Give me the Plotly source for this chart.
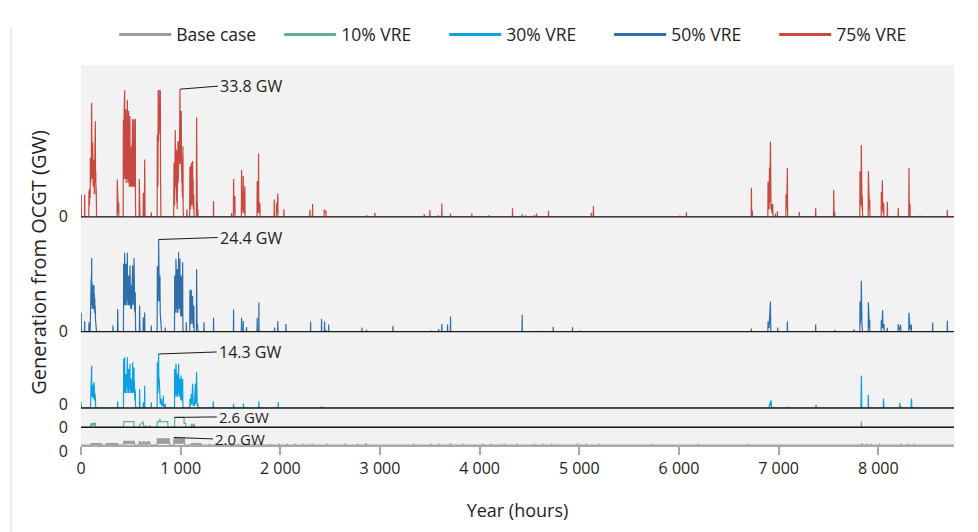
import plotly.graph_objects as go
from plotly.subplots import make_subplots

# ---------------- data (hour of year, GW from OCGT) ----------------
hour_ticks = [0, 1000, 2000, 3000, 4000, 5000, 6000, 7000, 8000]
hour_tick_labels = ["0", "1 000", "2 000", "3 000", "4 000", "5 000", "6 000", "7 000", "8 000"]

vre75_points = [
    (0, 0), (2, 5.9), (4, 0), (35, 0), (37, 5.9), (39, 0),
    (78, 0), (80, 7), (84, 3), (88, 7.5), (92, 5), (94, 15.6), (97, 9), (100, 14), (103, 12), (105, 22),
    (107, 30.2), (109, 18), (111, 20), (113, 10), (115, 17), (117, 19.6), (119, 10), (121, 12), (123, 8),
    (126, 15), (128, 9), (130, 9.9), (133, 6), (136, 12), (139, 8), (142, 14), (144, 25.3), (146, 9),
    (148, 12), (150, 6), (152, 8), (154, 4.6), (156, 0),
    (362, 0), (364, 9.9), (366, 2), (370, 5), (374, 1), (378, 3.7), (380, 0),
    (423, 0), (425, 25.8), (427, 12), (429, 20), (431, 10), (433, 28), (435, 14), (438, 33.5), (440, 12),
    (442, 22), (444, 10), (446, 26), (448, 14), (451, 28.5), (453, 9), (455, 20), (457, 11), (459, 24),
    (461, 10), (463, 27), (465, 31), (467, 12), (469, 22), (471, 9), (473, 18), (475, 12), (478, 28),
    (480, 10), (482, 20), (484, 8), (486, 16), (488, 12), (491, 26.7), (493, 9), (495, 14), (497, 8),
    (499, 18), (501, 10), (503, 14), (505, 18.7), (507, 8), (509, 12), (511, 9), (513, 20), (515, 10),
    (518, 26), (520, 8), (522, 14), (524, 9), (526, 18), (528, 8), (530, 12), (532, 25.8), (534, 9),
    (536, 16), (538, 8), (540, 22), (542, 10), (545, 26), (547, 3), (549, 0),
    (583, 0), (585, 10), (587, 2), (590, 1), (592, 0),
    (623, 0), (625, 6.4), (627, 1), (630, 3), (632, 0), (636, 0), (639, 15.2), (641, 3), (643, 0),
    (703, 0), (705, 1.2), (707, 0),
    (764, 0), (766, 21.8), (768, 10), (770, 15), (772, 8), (775, 33.5), (778, 20), (782, 33.6), (785, 25),
    (789, 30), (792, 22), (796, 33.5), (798, 10), (800, 4), (802, 0),
    (930, 0), (933, 14.3), (935, 5), (937, 10), (939, 3), (941, 12), (943, 6), (946, 23), (948, 8),
    (950, 15), (952, 10), (954, 18), (956, 9), (958, 14), (960, 4), (963, 17.4), (965, 2), (967, 8),
    (969, 3), (971, 12), (973, 20), (975, 9), (977, 15), (979, 10), (981, 18), (983, 12), (985, 20),
    (987, 14), (990, 26), (993, 33.8), (995, 22), (997, 18), (999, 24), (1001, 14), (1003, 20),
    (1006, 28), (1008, 12), (1010, 16), (1012, 9), (1014, 14), (1016, 7), (1018, 12), (1020, 5),
    (1023, 18.7), (1025, 3), (1027, 0),
    (1061, 0), (1063, 2), (1065, 0),
    (1090, 0), (1093, 13.4), (1095, 3), (1097, 8), (1099, 2), (1101, 10), (1103, 4), (1107, 14.3),
    (1109, 5), (1111, 9), (1113, 3), (1116, 12), (1120, 14.8), (1122, 6), (1125, 10), (1127, 2),
    (1130, 6), (1133, 2.8), (1135, 0),
    (1157, 0), (1160, 26.3), (1162, 5), (1164, 8), (1166, 2), (1168, 4), (1170, 0), (1173, 2), (1175, 0),
    (1328, 0), (1330, 4.2), (1332, 0),
    (1509, 0), (1511, 1), (1513, 0), (1529, 0), (1531, 10), (1533, 3), (1536, 1), (1540, 2), (1544, 5.5), (1546, 0),
    (1609, 0), (1611, 12.4), (1613, 3), (1616, 1), (1620, 4), (1624, 2), (1628, 10.8), (1630, 2),
    (1635, 1), (1640, 4), (1644, 8.1), (1646, 0),
    (1766, 0), (1768, 9.5), (1770, 2), (1775, 5), (1779, 1), (1782, 16.8), (1784, 4), (1788, 1),
    (1795, 3.7), (1797, 0),
    (1937, 0), (1939, 4.6), (1941, 0), (1960, 0), (1962, 3.7), (1964, 1), (1969, 2), (1975, 6.2), (1977, 0),
    (2034, 0), (2036, 2), (2038, 0),
    (2295, 0), (2297, 1.9), (2299, 0), (2322, 0), (2324, 3.4), (2326, 0),
    (2439, 0), (2441, 1.9), (2450, 1.2), (2458, 1.6), (2460, 0), (2529, 0), (2531, 0.2), (2533, 0),
    (2864, 0), (2866, 0.4), (2868, 0), (2947, 0), (2949, 1.1), (2951, 0),
    (3442, 0), (3444, 0.7), (3446, 0), (3499, 0), (3501, 1.8), (3503, 0), (3582, 0), (3584, 0.4), (3586, 0),
    (3619, 0), (3621, 3.5), (3623, 0), (3706, 0), (3708, 0.9), (3710, 0), (3920, 0), (3922, 0.9), (3924, 0),
    (4090, 0), (4092, 0.4), (4094, 0), (4328, 0), (4330, 2.3), (4332, 0), (4425, 0), (4427, 0.7), (4429, 0),
    (4458, 0), (4460, 0.4), (4462, 0), (4545, 0), (4547, 0.5), (4549, 0), (4569, 0), (4571, 0.9), (4573, 0),
    (4689, 0), (4691, 1.6), (4693, 0), (5120, 0), (5122, 1.1), (5124, 0), (5140, 0), (5142, 2.9), (5144, 0),
    (6006, 0), (6008, 0.35), (6010, 0), (6073, 0), (6075, 1.2), (6077, 0),
    (6725, 0), (6727, 7.7), (6730, 0), (6735, 0), (6737, 1.6), (6739, 0),
    (6892, 0), (6894, 9.3), (6898, 3), (6902, 6), (6905, 2), (6908, 13), (6911, 4), (6914, 10),
    (6918, 19.9), (6921, 5), (6924, 2), (6928, 3.5), (6932, 1), (6936, 2), (6941, 3.4), (6944, 0),
    (6966, 0), (6968, 0.9), (6970, 0), (6986, 0), (6988, 1.5), (6990, 0),
    (7073, 0), (7075, 6), (7079, 2), (7083, 4), (7088, 13), (7091, 0), (7206, 0), (7208, 1.3), (7210, 0),
    (7370, 0), (7372, 2.3), (7374, 0), (7551, 0), (7553, 7.1), (7556, 1), (7560, 0), (7563, 1.3), (7565, 0),
    (7815, 0), (7817, 12.1), (7820, 4), (7824, 8), (7827, 3), (7830, 19), (7833, 6), (7837, 2),
    (7840, 5.3), (7843, 0), (7899, 0), (7901, 12.1), (7904, 3), (7908, 6), (7911, 2), (7914, 4.6), (7917, 0),
    (8029, 0), (8031, 6.6), (8034, 2), (8038, 4), (8041, 9.7), (8044, 2), (8049, 1), (8054, 3.7), (8057, 0),
    (8089, 0), (8091, 4), (8094, 0), (8199, 0), (8201, 2.4), (8203, 0),
    (8306, 0), (8308, 13), (8311, 2), (8315, 1), (8318, 3.5), (8321, 0), (8417, 0), (8419, 0.3), (8421, 0),
    (8691, 0), (8693, 1.8), (8695, 0), (8760, 0),
]

vre50_points = [
    (0, 0), (2, 5), (4, 0), (35, 0), (37, 2.8), (39, 0), (78, 0), (80, 2.5), (83, 0),
    (92, 0), (94, 10.4), (96, 6), (98, 12), (100, 7), (102, 14), (104, 8), (107, 19.5), (109, 7),
    (111, 13), (113, 6), (115, 10), (117, 12.2), (119, 6), (121, 11), (123, 7), (125, 12), (127, 6),
    (130, 12.4), (132, 6), (134, 10), (136, 5), (138, 9), (140, 6), (142, 7), (144, 5.3), (146, 3),
    (150, 1), (154, 1.1), (156, 0),
    (319, 0), (321, 1.6), (323, 0), (366, 0), (368, 6), (370, 1), (372, 0),
    (426, 0), (428, 18), (430, 8), (432, 15), (434, 7), (436, 12), (438, 20.9), (440, 9), (442, 14),
    (444, 7), (446, 13), (448, 8), (451, 18), (453, 7), (455, 14), (457, 8), (459, 12), (461, 9),
    (463, 15), (465, 20.9), (467, 8), (469, 13), (471, 7), (473, 11), (475, 8), (478, 14.9), (480, 7),
    (482, 12), (484, 8), (486, 14), (488, 7), (491, 17.5), (493, 8), (495, 12), (497, 7), (499, 10),
    (501, 6), (503, 9), (505, 12.2), (507, 6), (509, 11), (511, 8), (513, 14), (515, 7), (518, 17.5),
    (520, 8), (522, 12), (524, 7), (526, 15), (528, 8), (530, 13), (532, 19.5), (534, 8), (536, 12),
    (538, 6), (540, 9), (542, 5), (545, 10.4), (547, 2), (549, 0),
    (586, 0), (588, 6.9), (590, 1), (592, 0), (623, 0), (625, 3.8), (628, 1), (632, 0),
    (637, 0), (639, 5.1), (641, 0), (703, 0), (705, 1.6), (707, 0),
    (764, 0), (766, 17.3), (768, 9), (770, 14), (772, 8), (775, 16), (777, 12), (779, 24.4), (781, 10),
    (784, 15), (786, 8), (789, 12), (792, 14.9), (795, 5), (798, 3), (802, 1), (806, 2.5), (808, 0),
    (844, 0), (846, 1.1), (848, 0),
    (938, 0), (940, 14.9), (942, 6), (944, 12), (946, 5), (948, 10), (950, 6), (953, 19.3), (955, 7),
    (957, 12), (959, 6), (961, 10), (963, 5), (966, 16.6), (968, 6), (970, 11), (972, 5), (974, 12),
    (976, 7), (980, 21), (982, 8), (984, 13), (986, 6), (988, 11), (990, 7), (993, 19.3), (995, 6),
    (997, 12), (999, 5), (1001, 10), (1003, 4), (1006, 14.9), (1008, 5), (1010, 11), (1012, 4),
    (1014, 9), (1016, 5), (1020, 18.4), (1022, 3), (1024, 0),
    (1055, 0), (1057, 2.5), (1059, 0),
    (1091, 0), (1093, 11.1), (1095, 3), (1097, 7), (1099, 2), (1102, 8), (1104, 3), (1107, 11.1),
    (1109, 4), (1112, 6), (1114, 2), (1117, 8), (1120, 9.5), (1122, 3), (1126, 5), (1129, 1),
    (1133, 6.9), (1135, 0), (1158, 0), (1160, 16.6), (1162, 3), (1165, 1), (1168, 2), (1170, 0),
    (1173, 1.1), (1175, 0),
    (1232, 0), (1234, 2.5), (1236, 0), (1328, 0), (1330, 3.7), (1332, 0),
    (1529, 0), (1531, 5.9), (1533, 0), (1609, 0), (1611, 3.7), (1613, 0), (1626, 0), (1628, 2.8), (1630, 0),
    (1659, 0), (1661, 1.2), (1663, 0),
    (1766, 0), (1768, 3.7), (1770, 0), (1783, 0), (1785, 7.7), (1787, 0), (1799, 0), (1801, 0.2), (1803, 0),
    (1940, 0), (1942, 1.1), (1944, 0), (1973, 0), (1975, 2.8), (1977, 0), (2054, 0), (2056, 2), (2058, 0),
    (2302, 0), (2304, 2.7), (2306, 0), (2412, 0), (2414, 3.4), (2416, 0), (2442, 0), (2444, 2.7), (2446, 0),
    (2456, 0), (2458, 0.4), (2460, 0), (2483, 0), (2485, 1.9), (2487, 0),
    (2817, 0), (2819, 1.1), (2821, 0), (2864, 0), (2866, 0.5), (2868, 0), (3128, 0), (3130, 1.5), (3132, 0),
    (3515, 0), (3517, 0.3), (3519, 0), (3586, 0), (3588, 0.7), (3590, 0), (3619, 0), (3621, 2), (3623, 0),
    (3676, 0), (3678, 1.9), (3680, 0), (3706, 0), (3708, 4), (3710, 0),
    (4425, 0), (4427, 4.5), (4429, 0), (4619, 0), (4621, 0.2), (4623, 0), (4736, 0), (4738, 1.3), (4740, 0),
    (4930, 0), (4932, 1.2), (4934, 0), (5003, 0), (5005, 0.3), (5007, 0),
    (6725, 0), (6727, 0.8), (6729, 0), (6892, 0), (6894, 2.7), (6897, 1), (6900, 2), (6904, 1),
    (6908, 3.2), (6911, 1), (6915, 4), (6918, 8), (6921, 1), (6925, 0), (6989, 0), (6991, 1.1), (6993, 0),
    (7086, 0), (7088, 2.7), (7090, 0), (7370, 0), (7372, 1.9), (7374, 0), (7561, 0), (7563, 0.4), (7565, 0),
    (7755, 0), (7757, 0.6), (7759, 0),
    (7815, 0), (7817, 8), (7820, 2), (7824, 5), (7827, 3), (7830, 13.5), (7833, 3), (7837, 1),
    (7840, 1.1), (7842, 0), (7899, 0), (7901, 7.8), (7904, 2), (7908, 4), (7911, 1), (7914, 3.1), (7916, 0),
    (8029, 0), (8031, 3.1), (8034, 1), (8038, 2), (8044, 5.7), (8047, 1), (8052, 1), (8058, 2), (8060, 0),
    (8089, 0), (8091, 1), (8093, 0), (8199, 0), (8201, 2), (8204, 0.5), (8210, 0.5), (8225, 1.8), (8227, 0),
    (8306, 0), (8308, 5), (8311, 1), (8318, 1), (8325, 0.5), (8332, 1.9), (8334, 0),
    (8544, 0), (8546, 2.4), (8548, 0), (8691, 0), (8693, 2.9), (8695, 0), (8760, 0),
]

vre30_points = [
    (0, 0), (2, 1.5), (4, 0),
    (95, 0), (97, 3.3), (99, 2), (101, 5), (103, 3), (105, 8), (107, 11.2), (109, 3), (111, 6), (113, 3),
    (115, 4), (117, 5.9), (119, 3), (121, 5), (123, 2.5), (125, 6), (127, 3), (130, 6.8), (132, 3),
    (134, 5), (136, 2), (138, 4), (140, 2.5), (142, 3), (144, 2.8), (146, 1), (148, 0),
    (366, 0), (368, 1.7), (370, 0),
    (426, 0), (428, 13), (430, 5), (432, 9), (434, 4), (436, 8), (438, 13.4), (440, 5), (442, 9),
    (444, 5), (446, 7), (448, 4), (451, 8.6), (453, 4), (455, 9), (457, 5), (459, 8), (461, 6),
    (463, 10), (465, 13.4), (467, 5), (469, 9), (471, 4), (473, 7), (475, 5), (478, 10.3), (480, 4),
    (482, 8), (484, 5), (486, 9), (488, 5), (491, 11.7), (493, 5), (495, 8), (497, 4), (499, 6),
    (501, 4), (503, 6), (505, 7.7), (507, 4), (509, 7), (511, 5), (513, 9), (515, 4), (518, 12.1),
    (520, 5), (522, 8), (524, 4), (526, 9), (528, 5), (530, 7), (532, 10.8), (534, 4), (536, 7),
    (538, 3), (540, 5), (542, 2), (545, 4.6), (547, 1), (549, 0),
    (586, 0), (588, 5), (590, 1), (592, 0), (623, 0), (625, 1.5), (627, 0), (637, 0), (639, 5.9), (641, 0),
    (703, 0), (705, 1.5), (707, 0),
    (764, 0), (766, 12.1), (768, 5), (770, 9), (772, 4), (775, 10), (777, 7), (779, 14.3), (781, 6),
    (784, 8), (786, 4), (789, 5), (792, 3.3), (796, 1), (800, 2), (803, 1), (806, 2.4), (810, 0.5),
    (815, 1), (820, 0.5), (826, 3.3), (828, 0.5), (835, 0.5), (840, 0.3), (846, 1.1), (848, 0),
    (938, 0), (940, 10.3), (942, 4), (944, 8), (946, 3), (948, 7), (950, 4), (953, 11.7), (955, 5),
    (957, 8), (959, 4), (961, 7), (963, 3), (966, 9), (968, 4), (970, 7), (972, 3), (974, 8), (976, 5),
    (980, 11.7), (982, 5), (984, 8), (986, 4), (988, 6), (990, 3), (993, 7.7), (995, 3), (997, 6),
    (999, 3), (1001, 5), (1003, 2), (1006, 8.6), (1008, 3), (1010, 6), (1012, 2), (1014, 5), (1016, 3),
    (1020, 7.7), (1022, 2), (1024, 0),
    (1091, 0), (1093, 2.4), (1095, 0.5), (1100, 1), (1107, 3.7), (1109, 1), (1114, 2), (1120, 6.4),
    (1122, 1), (1126, 0.5), (1133, 1.5), (1135, 0.5), (1140, 2), (1147, 6.4), (1149, 1), (1153, 2),
    (1160, 9.5), (1162, 1), (1166, 0.5), (1173, 1.1), (1175, 0),
    (1325, 0), (1327, 1.8), (1329, 0), (1529, 0), (1531, 1.1), (1533, 0), (1629, 0), (1631, 1.2), (1633, 0),
    (1783, 0), (1785, 1.8), (1787, 0), (1977, 0), (1979, 1.5), (1981, 0), (2405, 0), (2407, 0.4), (2409, 0),
    (2427, 0), (2429, 0.3), (2431, 0),
    (6905, 0), (6909, 1.2), (6912, 0.5), (6920, 1.8), (6925, 1.8), (6930, 0), (7088, 0), (7090, 0.3), (7092, 0),
    (7374, 0), (7376, 0.9), (7378, 0),
    (7826, 0), (7828, 2.8), (7830, 1), (7831, 8.6), (7834, 1), (7836, 0), (7898, 0), (7900, 3.5),
    (7903, 0.5), (7906, 0), (8050, 0), (8052, 2.5), (8055, 0.5), (8058, 0), (8214, 0), (8216, 1.4),
    (8219, 0.3), (8230, 0.3), (8232, 0), (8329, 0), (8331, 1.5), (8333, 2.5), (8336, 0.5), (8340, 0),
    (8760, 0),
]

vre10_points = [
    (0, 0), (98, 0), (100, 1.1), (103, 0.3), (106, 1.1), (110, 0.4), (114, 1.1), (118, 0.5), (122, 1.1),
    (126, 0.4), (130, 1.1), (134, 0.5), (138, 1.1), (144, 1.1), (146, 0),
    (426, 0), (428, 1.5), (530, 1.5), (532, 0),
    (586, 0), (590, 0.6), (620, 1.5), (625, 1.5), (627, 0.3), (650, 0.3), (652, 0),
    (686, 0), (688, 0.5), (690, 0),
    (764, 0), (766, 1.5), (785, 1.5), (788, 2.2), (792, 2.2), (796, 1.5), (870, 1.5), (873, 0),
    (938, 0), (940, 2.6), (1033, 2.6), (1035, 1.0), (1050, 1.0), (1052, 0),
    (1105, 0), (1107, 0.9), (1109, 0), (1120, 0), (1122, 0.9), (1124, 0), (1135, 0), (1137, 0.9), (1139, 0),
    (7829, 0), (7831, 1.6), (7833, 0), (7898, 0), (7900, 0.3), (7902, 0), (8331, 0), (8333, 0.3), (8335, 0),
    (8760, 0),
]

base_points = [
    (0, 0), (100, 0), (104, 0.5), (108, 0), (112, 0.5), (116, 0.1), (120, 0.5), (124, 0), (130, 0.5),
    (134, 0), (140, 0.5), (146, 0.1), (152, 0.5), (158, 0), (166, 0.5), (172, 0), (180, 0.5), (186, 0),
    (194, 0.5), (200, 0.1), (204, 0.5), (206, 0),
    (252, 0), (256, 0.5), (262, 0.1), (268, 0.5), (274, 0), (282, 0.5), (288, 0.1), (296, 0.5), (302, 0),
    (310, 0.5), (318, 0.1), (326, 0.5), (332, 0), (340, 0.5), (346, 0.1), (354, 0.5), (360, 0),
    (366, 0.5), (371, 0),
    (428, 0), (430, 1.1), (434, 0.2), (438, 1.1), (442, 0.3), (446, 1.1), (450, 0.2), (454, 1.1),
    (458, 0.4), (462, 1.1), (466, 0.2), (470, 1.1), (474, 0.3), (478, 1.1), (482, 0.5), (486, 1.1),
    (490, 0.2), (494, 0.9), (498, 0.3), (502, 1.1), (506, 0.2), (510, 1.1), (514, 0.3), (518, 1.1),
    (522, 0.2), (526, 1.1), (530, 0.3), (534, 1.1), (538, 0),
    (582, 0), (584, 1), (588, 0.2), (592, 1), (596, 0.3), (600, 1), (606, 0), (612, 0.5), (618, 0),
    (626, 1), (630, 0.2), (634, 1), (638, 0.3), (642, 1), (646, 0), (652, 0.5), (658, 0), (664, 1),
    (668, 0.2), (672, 1), (676, 0.3), (680, 1), (684, 0.2), (689, 1), (691, 0),
    (764, 0), (766, 1.8), (770, 0.3), (774, 1.8), (778, 0.4), (782, 1.8), (786, 0.3), (790, 1.8),
    (794, 0.5), (798, 1.8), (802, 0.3), (806, 1.8), (810, 0.4), (814, 1.8), (818, 0.3), (822, 1.8),
    (826, 0.5), (830, 1.8), (834, 0.3), (838, 1.8), (842, 0.4), (846, 1.8), (850, 0.3), (854, 1.8),
    (858, 0.5), (862, 1.8), (866, 0.3), (870, 1.8), (874, 0.4), (878, 1.8), (882, 0.3), (886, 1.8), (889, 0),
    (931, 0), (933, 2), (937, 0.4), (941, 2), (945, 0.3), (949, 2), (953, 0.5), (957, 2), (961, 0.3),
    (965, 2), (969, 0.4), (973, 2), (977, 0.3), (981, 2), (985, 0.5), (989, 2), (993, 0.3), (997, 2),
    (1001, 0.4), (1005, 2), (1009, 0.3), (1013, 2), (1017, 0.5), (1021, 2), (1025, 0.3), (1029, 2),
    (1033, 0.4), (1037, 2), (1040, 0),
    (1105, 0), (1108, 0.5), (1112, 0.1), (1118, 0.5), (1124, 0), (1132, 0.5), (1138, 0.1), (1146, 0.5),
    (1152, 0), (1160, 0.5), (1166, 0.1), (1174, 0.5), (1180, 0), (1188, 0.5), (1194, 0.1), (1202, 0.5), (1207, 0),
    (1288, 0), (1290, 0.35), (1292, 0), (1348, 0), (1350, 0.35), (1352, 0), (1418, 0), (1420, 0.35), (1422, 0),
    (1498, 0), (1500, 0.35), (1502, 0), (1578, 0), (1580, 0.35), (1582, 0), (1648, 0), (1650, 0.35), (1652, 0),
    (1718, 0), (1720, 0.35), (1722, 0), (1808, 0), (1810, 0.35), (1812, 0), (1898, 0), (1900, 0.35), (1902, 0),
    (1988, 0), (1990, 0.35), (1992, 0), (2068, 0), (2070, 0.35), (2072, 0), (2148, 0), (2150, 0.35), (2152, 0),
    (2228, 0), (2230, 0.35), (2232, 0), (2318, 0), (2320, 0.35), (2322, 0), (2470, 0), (2472, 0.35), (2474, 0),
    (2643, 0), (2645, 0.35), (2647, 0), (2773, 0), (2775, 0.35), (2777, 0), (2859, 0), (2861, 0.5), (2863, 0),
    (3336, 0), (3338, 0.4), (3340, 0), (3509, 0), (3511, 0.35), (3513, 0), (3595, 0), (3597, 0.35), (3599, 0),
    (3704, 0), (3706, 0.45), (3708, 0), (3833, 0), (3835, 0.35), (3837, 0), (4028, 0), (4030, 0.35), (4032, 0),
    (4115, 0), (4117, 0.35), (4119, 0), (4245, 0), (4247, 0.35), (4249, 0), (4375, 0), (4377, 0.35), (4379, 0),
    (4548, 0), (4550, 0.35), (4552, 0), (4634, 0), (4636, 0.35), (4638, 0), (4721, 0), (4723, 0.35), (4725, 0),
    (4981, 0), (4983, 0.45), (4985, 0), (5067, 0), (5069, 0.35), (5071, 0), (5197, 0), (5199, 0.35), (5201, 0),
    (5717, 0), (5719, 0.3), (5721, 0), (6193, 0), (6195, 0.3), (6197, 0), (6691, 0), (6693, 0.3), (6695, 0),
    (7838, 0), (7840, 0.5), (7842, 0), (7881, 0), (7883, 0.4), (7885, 0), (7924, 0), (7926, 0.4), (7928, 0),
    (8011, 0), (8013, 0.35), (8015, 0), (8227, 0), (8229, 0.4), (8231, 0), (8292, 0), (8294, 0.4), (8296, 0),
    (8357, 0), (8359, 0.35), (8361, 0), (8760, 0),
]

series_names = ["Base case", "10% VRE", "30% VRE", "50% VRE", "75% VRE"]
series_colors = ["#9d9d9d", "#5fb18d", "#0aa0e2", "#2f6eab", "#c8473e"]
peak_labels = ["2.0 GW", "2.6 GW", "14.3 GW", "24.4 GW", "33.8 GW"]
peak_hours = [933, 940, 779, 779, 993]
peak_gw = [2.0, 2.6, 14.3, 24.4, 33.8]

# panels from top to bottom: 75%, 50%, 30%, 10%, base  (common GW scale)
panel_series = [4, 3, 2, 1, 0]
panel_points = [vre75_points, vre50_points, vre30_points, vre10_points, base_points]
panel_max = [40.2, 30.4, 20.2, 5.1, 4.7]

FONT = "Open Sans"
TXT = "#231f20"

# label placement (pixels, style only)
label_ax = [39, 42, 58, 59, 38]
label_ay = [1.5, -0.5, -2, -2, -3]
label_size = [15, 15, 16, 16, 16]
zero_shift = [0, 0, -4, 0, 6]

total = sum(panel_max)
fig = make_subplots(rows=5, cols=1, shared_xaxes=True, vertical_spacing=0,
                    row_heights=[m / total for m in panel_max])

# legend-only entries (thicker line samples)
for i, name in enumerate(series_names):
    fig.add_trace(go.Scatter(x=[None], y=[None], mode="lines", name=name,
                             line=dict(color=series_colors[i], width=3), showlegend=True,
                             hoverinfo="skip"), row=1, col=1)

for r, (si, pts) in enumerate(zip(panel_series, panel_points), start=1):
    hrs = [p[0] for p in pts]
    gw = [p[1] for p in pts]
    fig.add_trace(go.Scatter(x=hrs, y=gw, mode="lines", showlegend=False,
                             line=dict(color=series_colors[si], width=1.2)), row=r, col=1)
    fig.update_yaxes(range=[0, panel_max[r - 1]], tickvals=[0], ticktext=["0"], ticks="",
                     showgrid=False, zeroline=False, showline=False,
                     tickfont=dict(family=FONT, size=16, color=TXT), ticklabelstandoff=12,
                     ticklabelshift=zero_shift[r - 1],
                     row=r, col=1)
    sfx = str(r) if r > 1 else ""
    if r < 5:
        fig.update_xaxes(range=[0, 8760], showline=False,
                         ticks="", showticklabels=False, showgrid=False, zeroline=False, row=r, col=1)
        # dark baseline of the panel
        fig.add_shape(type="line", xref=f"x{sfx} domain", yref=f"y{sfx} domain",
                      x0=0, x1=1, y0=0, y1=0, layer="above",
                      line=dict(color="#1a1a1a", width=1.3))
    else:
        fig.update_xaxes(range=[0, 8760], showline=True, linecolor="#a8a8a8", linewidth=1.5,
                         ticks="outside", ticklen=8, tickwidth=1.5, tickcolor="#a8a8a8",
                         tickvals=hour_ticks, ticktext=hour_tick_labels, showticklabels=True,
                         tickfont=dict(family=FONT, size=16, color=TXT),
                         showgrid=False, zeroline=False,
                         title=dict(text="Year (hours)", font=dict(family=FONT, size=18, color=TXT), standoff=26),
                         row=r, col=1)
    fig.add_annotation(x=peak_hours[si], y=peak_gw[si], xref="x" + sfx, yref="y" + sfx,
                       text=peak_labels[si], showarrow=True, arrowhead=0, arrowwidth=1, arrowcolor="#1a1a1a",
                       ax=label_ax[si], ay=label_ay[si], xanchor="left", yanchor="middle",
                       font=dict(family=FONT, size=label_size[si], color=TXT))

fig.add_annotation(x=-0.048, y=0.48, xref="paper", yref="paper", text="Generation from OCGT (GW)",
                   textangle=-90, showarrow=False, xanchor="center", yanchor="middle",
                   font=dict(family=FONT, size=20, color=TXT))

fig.add_shape(type="line", xref="paper", yref="paper", x0=-0.08, x1=-0.08, y0=-0.23, y1=1.1,
              line=dict(color="#ececec", width=2))

fig.update_layout(
    width=978, height=532,
    margin=dict(l=81, r=24, t=65, b=87),
    paper_bgcolor="white", plot_bgcolor="#f2f2f2",
    font=dict(family=FONT, size=16, color=TXT),
    showlegend=True,
    legend=dict(orientation="h", x=0.038, y=1.08, xanchor="left", yanchor="middle",
                itemwidth=52, entrywidth=98, entrywidthmode="pixels",
                font=dict(family=FONT, size=17.5, color=TXT), bgcolor="rgba(0,0,0,0)"),
)

fig.write_html("out.html", config={"displayModeBar": False},
               post_script="document.body.style.margin='0px';")
